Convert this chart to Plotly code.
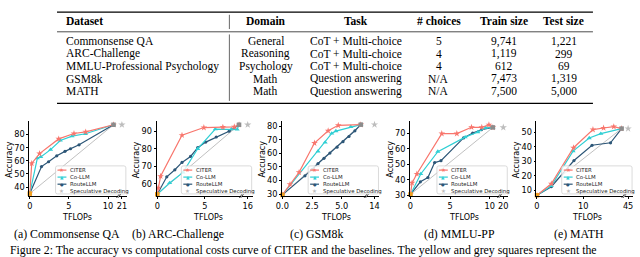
import plotly.graph_objects as go

# ---------------- data: table ----------------
table_header = ["Dataset", "Domain", "Task", "# choices", "Train size", "Test size"]
table_dataset = ["Commonsense QA", "ARC-Challenge", "MMLU-Professional Psychology", "GSM8k", "MATH"]
table_domain = ["General", "Reasoning", "Psychology", "Math", "Math"]
table_task = ["CoT + Multi-choice", "CoT + Multi-choice", "CoT + Multi-choice",
              "Question answering", "Question answering"]
table_choices = ["5", "4", "4", "N/A", "N/A"]
table_train = ["9,741", "1,119", "612", "7,473", "7,500"]
table_test = ["1,221", "299", "69", "1,319", "5,000"]

# ---------------- data: curves ----------------
series_names = ["CITER", "Co-LLM", "RouteLLM", "Speculative Decoding"]
panel_captions = ["(a) Commonsense QA", "(b) ARC-Challenge", "(c) GSM8k", "(d) MMLU-PP", "(e) MATH"]
figure_caption = ("Figure 2: The accuracy vs computational costs curve of CITER and the baselines. "
                  "The yellow and grey squares represent the")

# (a) Commonsense QA
csqa_citer_x = [0, 0.25, 1.25, 3.7, 5.65, 7.15, 10.7]
csqa_citer_y = [35, 58, 65.5, 76.7, 80.8, 82, 87.5]
csqa_co_x = [0, 0.97, 1.4, 2.66, 3.9, 5.4, 7.1, 10.7]
csqa_co_y = [35, 62, 63, 68.5, 75.5, 78.8, 80.6, 87.5]
csqa_route_x = [0, 1.5, 2.4, 3.45, 4.5, 5.2, 6.3, 10.7]
csqa_route_y = [35, 55.6, 59.3, 63.8, 67.2, 69.2, 72.2, 87.5]
csqa_small = [0, 35]
csqa_large = [10.7, 87.5]
csqa_spec = [21, 87.5]
csqa_xticks = [0, 5, 10]
csqa_yticks = [40, 50, 60, 70, 80]

# (b) ARC-Challenge
arc_citer_x = [0, 0.1, 0.35, 2.6, 4.9, 6.9, 8.1, 8.6]
arc_citer_y = [54, 57.7, 64.3, 87.7, 92.1, 92.3, 92.5, 93.7]
arc_co_x = [0, 1.3, 2.7, 4.25, 6.1, 7.8, 8.4, 8.6]
arc_co_y = [54, 60.5, 66.5, 80, 91.2, 91.2, 91, 93.7]
arc_route_x = [0, 1.0, 1.85, 2.6, 3.5, 4.25, 5.1, 6.2, 7.55, 8.6]
arc_route_y = [54, 64, 68, 72.2, 75.6, 80.6, 83.8, 86.7, 90, 93.7]
arc_small = [0, 54]
arc_large = [8.6, 93.7]
arc_spec = [16, 93.7]
arc_xticks = [0, 5]
arc_yticks = [60, 70, 80, 90]

# (c) GSM8k
gsm_citer_x = [0, 0.64, 1.4, 2.7, 3.85, 4.7, 6.6]
gsm_citer_y = [29.5, 37.2, 46, 67.5, 76.5, 80.5, 81]
gsm_co_x = [0, 3.0, 3.6, 4.15, 4.5, 5.75, 6.6]
gsm_co_y = [29.5, 61.5, 68, 74.6, 76.3, 79.4, 81]
gsm_route_x = [0, 1.9, 2.5, 3.0, 3.5, 4.0, 4.6, 5.1, 5.6, 6.1, 6.6]
gsm_route_y = [29.5, 43.5, 48, 52.5, 56.3, 60.2, 64.5, 68.5, 72.3, 76.5, 81]
gsm_small = [0, 29.5]
gsm_large = [6.6, 81]
gsm_spec = [14, 81]
gsm_xticks = [0, 2.5, 5]
gsm_xticktext = ["0.0", "2.5", "5.0"]
gsm_yticks = [30, 40, 50, 60, 70, 80]

# (d) MMLU-PP
mmlu_citer_x = [0, 0.2, 0.8, 3.95, 5.85, 7.7, 9.0, 9.9, 10.4]
mmlu_citer_y = [30.5, 38, 43.8, 70, 70, 74.1, 74.1, 75.7, 74]
mmlu_co_x = [0, 1.3, 3.45, 6.9, 8.5, 9.5, 10.4]
mmlu_co_y = [30.5, 43.8, 58.3, 67.7, 71, 73.8, 74]
mmlu_route_x = [0, 1.25, 2.2, 3.05, 3.85, 6.7, 7.85, 8.95, 10.4]
mmlu_route_y = [30.5, 38.7, 41.5, 51.2, 52.4, 67.2, 70.4, 72.5, 74]
mmlu_small = [0, 30.5]
mmlu_large = [10.4, 74]
mmlu_spec = [20, 74]
mmlu_xticks = [0, 5, 10]
mmlu_yticks = [30, 40, 50, 60, 70]

# (e) MATH
math_citer_x = [0, 3.1, 7.9, 12.1, 14.4, 16.6, 18.3]
math_citer_y = [6.6, 14.5, 39.3, 51.8, 52.9, 53.8, 52.5]
math_co_x = [0, 3.1, 7.8, 11.3, 13.8, 18.3]
math_co_y = [6.6, 13, 37, 46, 49, 52.5]
math_route_x = [0, 3.1, 8.0, 11.9, 15.9, 18.3]
math_route_y = [6.6, 12.5, 30.5, 41, 42.7, 52.5]
math_small = [0, 6.6]
math_large = [18.3, 52.5]
math_spec = [45, 52.5]
math_xticks = [0, 10]
math_yticks = [10, 20, 30, 40, 50]

# ---------------- layout / style config ----------------
W, H = 640, 257
C_CITER = "#f8766d"
C_CO = "#2fcfd4"
C_ROUTE = "#2c5677"
C_SPEC = "#bdbdbd"
C_DIAG = "#b0b0b0"
C_SMALL = "#f0a020"
C_LARGE = "#8c8c8c"
SANS = "DejaVu Sans"
SERIF = "Liberation Serif"

def fx(px):
    return px / W

def fy(py):
    return 1 - py / H

panels = [
    dict(cx=csqa_citer_x, cy=csqa_citer_y, ox=csqa_co_x, oy=csqa_co_y, rx=csqa_route_x, ry=csqa_route_y,
         small=csqa_small, large=csqa_large, spec=csqa_spec, xt=csqa_xticks, xtt=None, yt=csqa_yticks,
         L=23.5, R=113, x0=24, ppu=7.9, SL=114.5, SR=122, sp=117, ycal=(40, 190, 80, 136.7),
         tfl_x=72, cap_x=62),
    dict(cx=arc_citer_x, cy=arc_citer_y, ox=arc_co_x, oy=arc_co_y, rx=arc_route_x, ry=arc_route_y,
         small=arc_small, large=arc_large, spec=arc_spec, xt=arc_xticks, xtt=None, yt=arc_yticks,
         L=152, R=237, x0=152.7, ppu=9.6, SL=238.5, SR=249, sp=244, ycal=(60, 186.7, 90, 133.3),
         tfl_x=204, cap_x=174),
    dict(cx=gsm_citer_x, cy=gsm_citer_y, ox=gsm_co_x, oy=gsm_co_y, rx=gsm_route_x, ry=gsm_route_y,
         small=gsm_small, large=gsm_large, spec=gsm_spec, xt=gsm_xticks, xtt=gsm_xticktext, yt=gsm_yticks,
         L=278.5, R=363, x0=279, ppu=12, SL=364.5, SR=377, sp=372, ycal=(30, 197.3, 80, 128),
         tfl_x=333, cap_x=314),
    dict(cx=mmlu_citer_x, cy=mmlu_citer_y, ox=mmlu_co_x, oy=mmlu_co_y, rx=mmlu_route_x, ry=mmlu_route_y,
         small=mmlu_small, large=mmlu_large, spec=mmlu_spec, xt=mmlu_xticks, xtt=None, yt=mmlu_yticks,
         L=407.8, R=497.5, x0=408.3, ppu=8, SL=499, SR=507, sp=502, ycal=(30, 198.3, 70, 135.7),
         tfl_x=462, cap_x=458),
    dict(cx=math_citer_x, cy=math_citer_y, ox=math_co_x, oy=math_co_y, rx=math_route_x, ry=math_route_y,
         small=math_small, large=math_large, spec=math_spec, xt=math_xticks, xtt=None, yt=math_yticks,
         L=535.5, R=623, x0=536, ppu=4.67, SL=624.5, SR=633, sp=628, ycal=(10, 193.3, 50, 134.3),
         tfl_x=587, cap_x=578),
]

PLOT_TOP, PLOT_BOT = 123, 199

fig = go.Figure()
layout = dict(width=W, height=H, margin=dict(l=0, r=0, t=0, b=0),
              paper_bgcolor="white", plot_bgcolor="rgba(0,0,0,0)",
              showlegend=False, font=dict(family=SANS, color="black"))
shapes = []
annotations = []

axis_common = dict(showgrid=False, zeroline=False, showline=True, linecolor="black", linewidth=0.8,
                   ticks="outside", ticklen=2, tickwidth=0.8, tickcolor="black",
                   tickfont=dict(family=SANS, size=8.2, color="black"), fixedrange=True)

for i, p in enumerate(panels):
    xm = "x" if i == 0 else f"x{2*i+1}"
    xs = f"x{2*i+2}"
    ya = "y" if i == 0 else f"y{i+1}"
    xm_key = "xaxis" if i == 0 else f"xaxis{2*i+1}"
    xs_key = f"xaxis{2*i+2}"
    ya_key = "yaxis" if i == 0 else f"yaxis{i+1}"

    rng_main = [(p["L"] - p["x0"]) / p["ppu"], (p["R"] - p["x0"]) / p["ppu"]]
    layout[xm_key] = dict(axis_common, domain=[fx(p["L"]), fx(p["R"])], range=rng_main,
                          anchor=ya, tickvals=p["xt"],
                          ticktext=p["xtt"] if p["xtt"] else [str(v) for v in p["xt"]])
    s = p["spec"][0]
    wpx = p["SR"] - p["SL"]
    rng_small = [s - (p["sp"] - p["SL"]) / wpx, s + (p["SR"] - p["sp"]) / wpx]
    layout[xs_key] = dict(axis_common, domain=[fx(p["SL"]), fx(p["SR"])], range=rng_small,
                          anchor=ya, tickvals=[s], ticktext=[str(s)])
    v1, p1, v2, p2 = p["ycal"]
    ppy = (p1 - p2) / (v2 - v1)
    rng_y = [v1 - (PLOT_BOT - p1) / ppy, v1 + (p1 - PLOT_TOP) / ppy]
    layout[ya_key] = dict(axis_common, domain=[fy(PLOT_BOT), fy(PLOT_TOP)], range=rng_y,
                          anchor=xm, tickvals=p["yt"], ticktext=[str(v) for v in p["yt"]])

    fig.add_trace(go.Scatter(x=[p["small"][0], p["large"][0]], y=[p["small"][1], p["large"][1]],
                             mode="lines", line=dict(color=C_DIAG, width=0.8),
                             xaxis=xm, yaxis=ya, hoverinfo="skip"))
    fig.add_trace(go.Scatter(x=p["rx"], y=p["ry"], mode="lines+markers", name=series_names[2],
                             line=dict(color=C_ROUTE, width=1.2),
                             marker=dict(symbol="circle", size=3.2, color=C_ROUTE),
                             xaxis=xm, yaxis=ya))
    fig.add_trace(go.Scatter(x=p["ox"], y=p["oy"], mode="lines+markers", name=series_names[1],
                             line=dict(color=C_CO, width=1.2),
                             marker=dict(symbol="triangle-up", size=4.5, color=C_CO),
                             xaxis=xm, yaxis=ya))
    fig.add_trace(go.Scatter(x=p["cx"], y=p["cy"], mode="lines+markers", name=series_names[0],
                             line=dict(color=C_CITER, width=1.2),
                             marker=dict(symbol="star", size=5, color=C_CITER),
                             xaxis=xm, yaxis=ya))
    fig.add_trace(go.Scatter(x=[p["small"][0]], y=[p["small"][1]], mode="markers",
                             marker=dict(symbol="square", size=4.5, color=C_SMALL),
                             xaxis=xm, yaxis=ya, cliponaxis=False))
    fig.add_trace(go.Scatter(x=[p["large"][0]], y=[p["large"][1]], mode="markers",
                             marker=dict(symbol="square", size=4.5, color=C_LARGE),
                             xaxis=xm, yaxis=ya, cliponaxis=False))
    fig.add_trace(go.Scatter(x=[p["spec"][0]], y=[p["spec"][1]], mode="markers", name=series_names[3],
                             marker=dict(symbol="star", size=5.5, color=C_SPEC),
                             xaxis=xs, yaxis=ya, cliponaxis=False))

    for bx in (p["R"], p["SL"]):
        shapes.append(dict(type="line", xref="paper", yref="paper",
                           x0=fx(bx - 1.5), y0=fy(PLOT_BOT + 2), x1=fx(bx + 1.5), y1=fy(PLOT_BOT - 2),
                           line=dict(color="black", width=0.7)))

    annotations.append(dict(text="Accuracy", x=fx(p["L"] - 20), y=fy((PLOT_TOP + PLOT_BOT) / 2 + 1),
                            xref="paper", yref="paper", showarrow=False, textangle=-90,
                            font=dict(family=SANS, size=8, color="black"),
                            xanchor="center", yanchor="middle", borderpad=0))
    annotations.append(dict(text="TFLOPs", x=fx(p["tfl_x"]), y=fy(220.5), xref="paper", yref="paper",
                            showarrow=False, font=dict(family=SANS, size=8, color="black"),
                            xanchor="center", yanchor="middle", borderpad=0))
    annotations.append(dict(text=panel_captions[i], x=fx(p["cap_x"]), y=fy(238), xref="paper",
                            yref="paper", showarrow=False, font=dict(family=SERIF, size=11.8, color="black"),
                            xanchor="center", yanchor="middle", borderpad=0))

    br = p["SR"] - 1
    bl = br - 71
    bt, bb = 168.5, 197
    r = 2
    path = (f"M {fx(bl + r)} {fy(bt)} L {fx(br - r)} {fy(bt)} Q {fx(br)} {fy(bt)} {fx(br)} {fy(bt + r)} "
            f"L {fx(br)} {fy(bb - r)} Q {fx(br)} {fy(bb)} {fx(br - r)} {fy(bb)} "
            f"L {fx(bl + r)} {fy(bb)} Q {fx(bl)} {fy(bb)} {fx(bl)} {fy(bb - r)} "
            f"L {fx(bl)} {fy(bt + r)} Q {fx(bl)} {fy(bt)} {fx(bl + r)} {fy(bt)} Z")
    shapes.append(dict(type="path", path=path, xref="paper", yref="paper",
                       fillcolor="rgba(255,255,255,0.8)", line=dict(color="#d0d0d0", width=0.8),
                       layer="above"))
    offs = [4.3, 11.4, 18.6, 25.6]
    cols = [C_CITER, C_CO, C_ROUTE, C_SPEC]
    glyphs = ["★", "▲", "●", "★"]
    gsize = [5.5, 4.5, 4, 5.5]
    for k in range(4):
        ly = bt + offs[k]
        if k < 3:
            shapes.append(dict(type="line", xref="paper", yref="paper", layer="above",
                               x0=fx(bl + 2), x1=fx(bl + 11), y0=fy(ly), y1=fy(ly),
                               line=dict(color=cols[k], width=1.2)))
        annotations.append(dict(text=glyphs[k], x=fx(bl + 6.5), y=fy(ly), xref="paper", yref="paper",
                                showarrow=False, font=dict(family=SANS, size=gsize[k], color=cols[k]),
                                xanchor="center", yanchor="middle", borderpad=0))
        annotations.append(dict(text=series_names[k], x=fx(bl + 13.5), y=fy(ly), xref="paper", yref="paper",
                                showarrow=False, font=dict(family=SANS, size=5.4, color="#222"),
                                xanchor="left", yanchor="middle", borderpad=0))

# ---------------- table ----------------
TL, TR = 51.5, 592.5
for yy, wdt in ((12.3, 1.3), (32.3, 0.7), (105, 1.3)):
    shapes.append(dict(type="line", xref="paper", yref="paper", x0=fx(TL), x1=fx(TR),
                       y0=fy(yy), y1=fy(yy), line=dict(color="black", width=wdt)))
for y0_, y1_ in ((15, 29.5), (35, 102.5)):
    shapes.append(dict(type="line", xref="paper", yref="paper", x0=fx(225.5), x1=fx(225.5),
                       y0=fy(y0_), y1=fy(y1_), line=dict(color="black", width=0.6)))

col_x = [59.5, 262, 353, 437, 503, 563]
col_anchor = ["left", "center", "center", "center", "center", "center"]
header_y = 21.8
row_y = [41.9, 54.6, 67.3, 80.1, 92.8]
columns = [table_dataset, table_domain, table_task, table_choices, table_train, table_test]
for c, name in enumerate(table_header):
    annotations.append(dict(text=f"<b>{name}</b>", x=fx(col_x[c]), y=fy(header_y), xref="paper",
                            yref="paper", showarrow=False, font=dict(family=SERIF, size=11.5, color="black"),
                            xanchor=col_anchor[c], yanchor="middle", borderpad=0))
    for r_, val in enumerate(columns[c]):
        annotations.append(dict(text=val, x=fx(col_x[c]), y=fy(row_y[r_]), xref="paper", yref="paper",
                                showarrow=False, font=dict(family=SERIF, size=11.5, color="black"),
                                xanchor=col_anchor[c], yanchor="middle", borderpad=0))

annotations.append(dict(text=figure_caption, x=fx(3), y=fy(253.5), xref="paper", yref="paper",
                        showarrow=False, font=dict(family=SERIF, size=11.8, color="black"),
                        xanchor="left", yanchor="middle", borderpad=0))

layout["shapes"] = shapes
layout["annotations"] = annotations
fig.update_layout(**layout)
fig.write_html("out.html", config={"displayModeBar": False},
               post_script="document.body.style.margin='0px';document.body.style.overflow='hidden';")
